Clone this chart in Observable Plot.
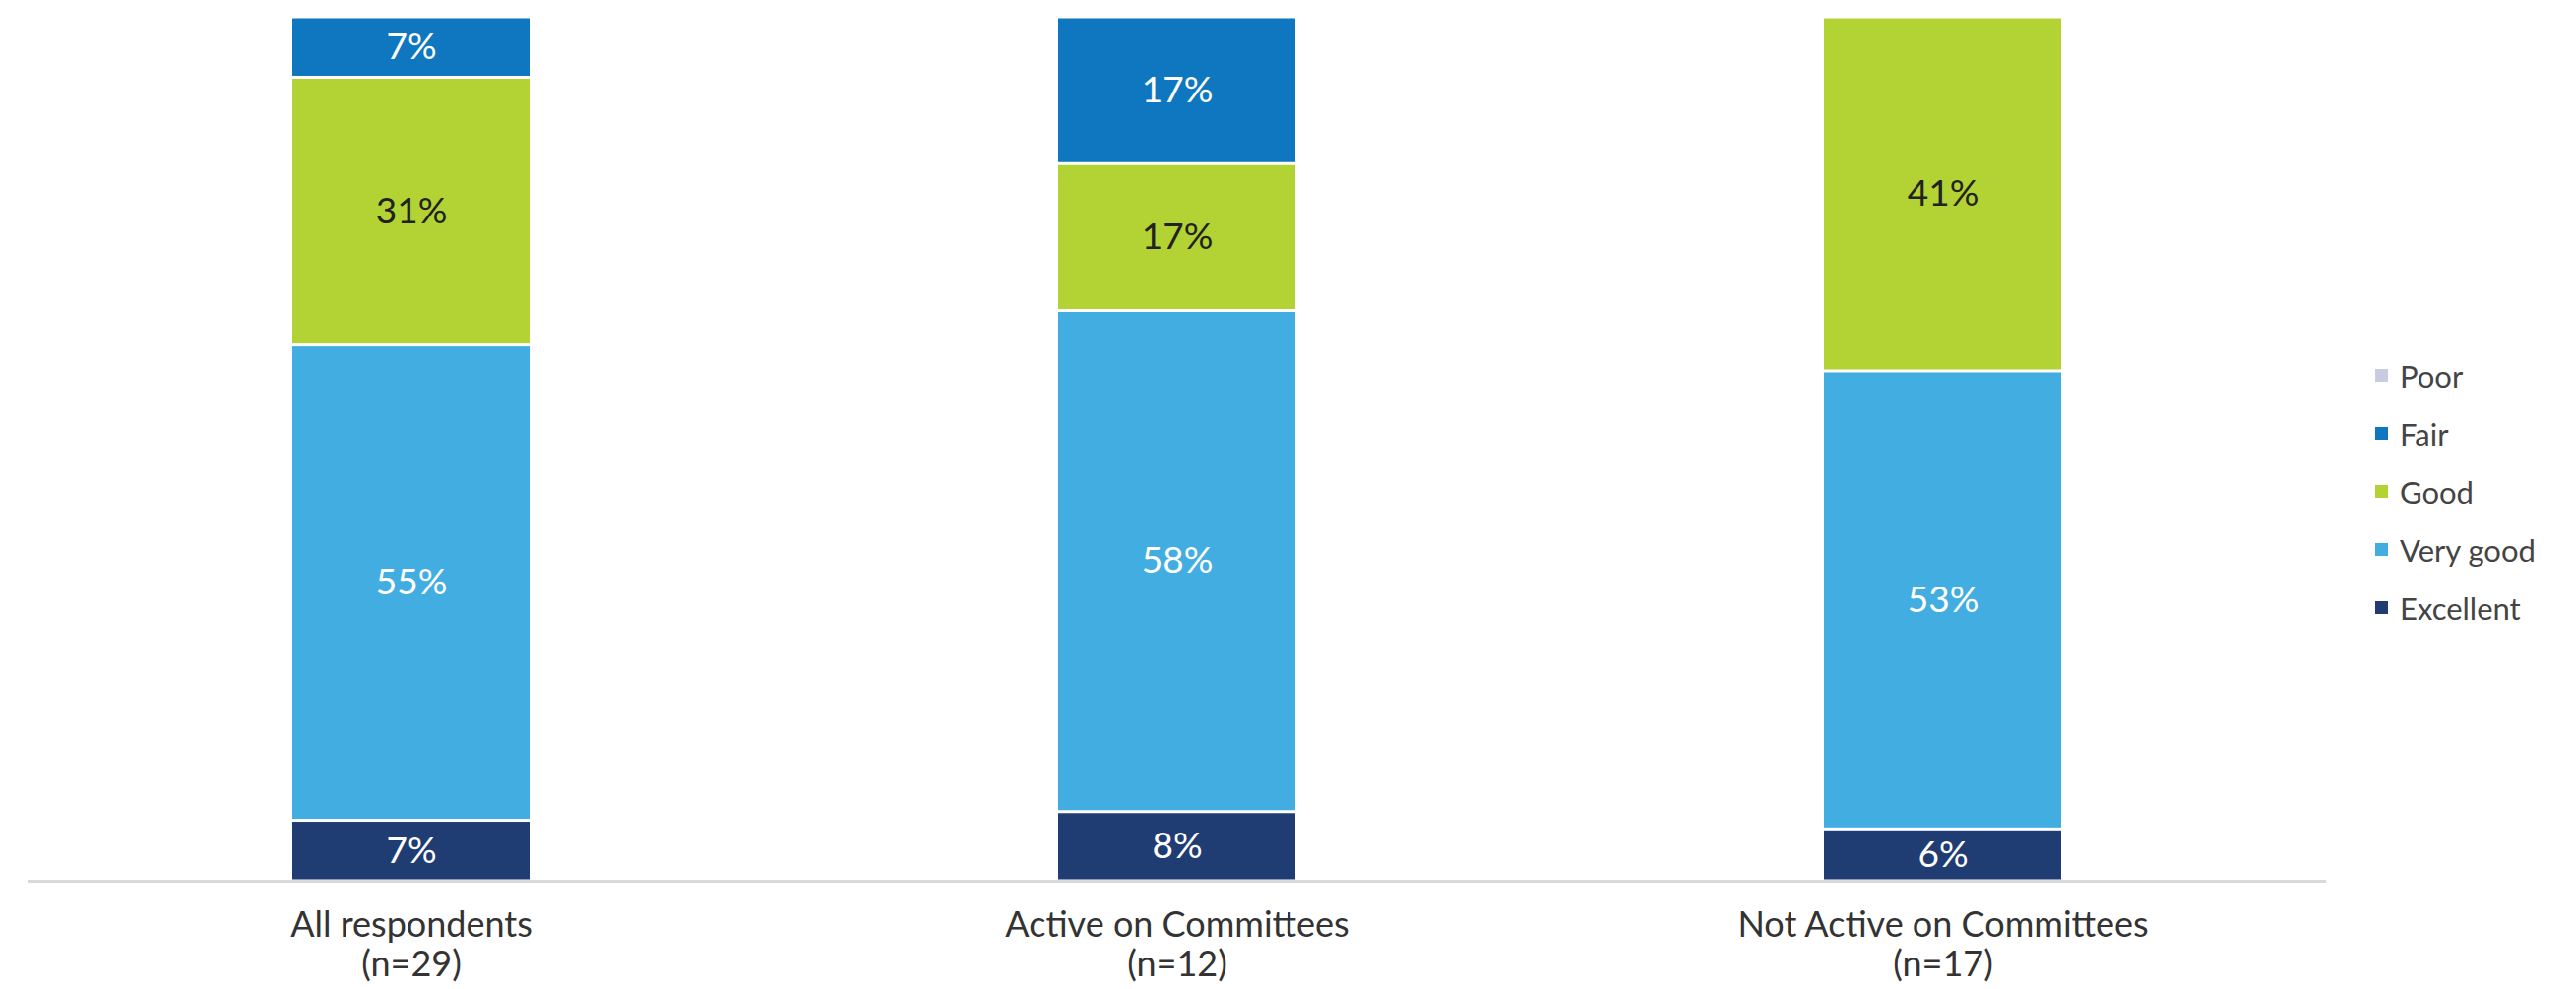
<!DOCTYPE html>
<html>
<head>
<meta charset="utf-8">
<script src="https://cdn.jsdelivr.net/npm/d3@7"></script>
<script src="https://cdn.jsdelivr.net/npm/@observablehq/plot@0.6"></script>
<style>
  html, body { margin: 0; padding: 0; background: #fff; }
  body { width: 2617px; height: 1005px; position: relative; overflow: hidden; font-family: Lato, "Open Sans", sans-serif; }
  #legend { position: absolute; left: 2413px; top: 352px; }
  .item { display: flex; align-items: center; height: 59px; font-size: 31px; color: #444; }
  .sw { width: 13px; height: 13px; margin-right: 12px; }
</style>
</head>
<body>
<div id="chart"></div>
<div id="legend"></div>
<script>
const groups = ["All respondents\n(n=29)", "Active on Committees\n(n=12)", "Not Active on Committees\n(n=17)"];
const ratings = ["Excellent", "Very good", "Good", "Fair", "Poor"];
const colors = ["#1f3d72", "#42ade1", "#b3d334", "#0e77bf", "#c8cce0"];
const excellent = [7, 8, 6];
const veryGood = [55, 58, 53];
const good = [31, 17, 41];
const fair = [7, 17, 0];
const poor = [0, 0, 0];

const series = [excellent, veryGood, good, fair, poor];
const data = [];
groups.forEach((g, i) => {
  ratings.forEach((r, j) => {
    data.push({group: g, rating: r, value: series[j][i]});
  });
});
const shown = data.filter(d => d.value > 0);
const textColor = {"Excellent": "#ffffff", "Very good": "#ffffff", "Good": "#222222", "Fair": "#ffffff", "Poor": "#222222"};

const chart = Plot.plot({
  width: 2617,
  height: 1005,
  marginTop: 17,
  marginBottom: 110,
  marginLeft: 28,
  marginRight: 254,
  style: {fontFamily: "Lato, 'Open Sans', sans-serif", background: "white"},
  x: {domain: groups, paddingInner: 0.69, paddingOuter: 0.345, label: null},
  y: {domain: [0, 100], axis: null},
  color: {domain: ratings, range: colors},
  marks: [
    Plot.barY(shown, Plot.stackY({
      x: "group", y: "value", fill: "rating", order: ratings,
      insetTop: 1.5, insetBottom: 1.5
    })),
    Plot.ruleY([0], {stroke: "#d9d9d9", strokeWidth: 3}),
    Plot.text(shown, Plot.stackY({
      x: "group", y: "value", order: ratings,
      text: d => d.value + "%",
      fill: d => textColor[d.rating],
      fontSize: 37
    })),
    Plot.axisX({
      tickSize: 0, tickPadding: 28, fontSize: 36, lineHeight: 1.12,
      fill: "#333", label: null
    })
  ]
});
document.getElementById("chart").appendChild(chart);

const legend = document.getElementById("legend");
const legendOrder = ["Poor", "Fair", "Good", "Very good", "Excellent"];
legendOrder.forEach(r => {
  const it = document.createElement("div");
  it.className = "item";
  const sw = document.createElement("span");
  sw.className = "sw";
  sw.style.background = colors[ratings.indexOf(r)];
  const lb = document.createElement("span");
  lb.textContent = r;
  it.appendChild(sw);
  it.appendChild(lb);
  legend.appendChild(it);
});
</script>
</body>
</html>
